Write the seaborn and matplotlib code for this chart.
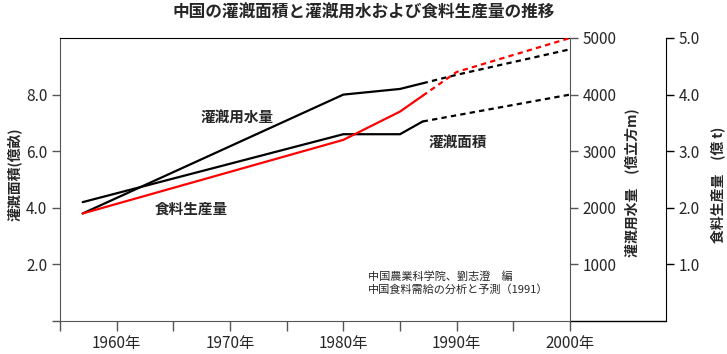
import seaborn as sns
import matplotlib.pyplot as plt
from matplotlib.lines import Line2D

# ---- data ----
area_years = [1957, 1980, 1985, 1987]
area_vals = [4.2, 6.6, 6.6, 7.05]          # 億畝
area_proj_years = [1987, 2000]
area_proj_vals = [7.05, 8.0]

water_years = [1957, 1980, 1985, 1987]
water_vals = [1900, 4000, 4100, 4200]      # 億立方m
water_proj_years = [1987, 1990, 2000]
water_proj_vals = [4200, 4350, 4800]

food_years = [1957, 1980, 1985, 1987]
food_vals = [1.9, 3.2, 3.7, 3.98]          # 億t
food_proj_years = [1987, 1990, 2000]
food_proj_vals = [3.98, 4.4, 5.0]

x_major = [1960, 1970, 1980, 1990, 2000]
x_minor = [1955, 1965, 1975, 1985, 1995]
x_labels = [f"{y}年" for y in x_major]

sns.set_style("white")
plt.rcParams['font.family'] = ['Noto Sans CJK JP', 'DejaVu Sans']

fig = plt.figure(figsize=(7.27, 3.54), dpi=100)
ax = fig.add_axes([60 / 727, 1 - 321 / 354, 510 / 727, 283 / 354])
ax2 = ax.twinx()
ax3 = ax.twinx()

solid = dict(lw=1.6, legend=False)
dash = (0, (2.4, 1.9))

# irrigated area (left axis)
sns.lineplot(x=area_years, y=area_vals, ax=ax, color="black", **solid)
sns.lineplot(x=area_proj_years, y=area_proj_vals, ax=ax, color="black", linestyle=dash, **solid)
# irrigation water (right axis)
sns.lineplot(x=water_years, y=water_vals, ax=ax2, color="black", **solid)
sns.lineplot(x=water_proj_years, y=water_proj_vals, ax=ax2, color="black", linestyle=dash, **solid)
# food production (outer right axis)
sns.lineplot(x=food_years, y=food_vals, ax=ax3, color="red", **solid)
sns.lineplot(x=food_proj_years, y=food_proj_vals, ax=ax3, color="red", linestyle=dash, **solid)

gray = "#555555"
for a in (ax, ax2, ax3):
    a.set_xlim(1955, 2000)
    a.set_xlabel("")
    a.set_ylabel("")
    a.grid(False)
    for s in a.spines.values():
        s.set_visible(False)

ax.set_ylim(0, 10)
ax2.set_ylim(0, 5000)
ax3.set_ylim(0, 5)

# spines
ax.spines['left'].set_visible(True)
ax.spines['left'].set_color(gray)
ax.spines['bottom'].set_visible(True)
ax.spines['bottom'].set_color(gray)
ax.spines['top'].set_visible(True)
ax.spines['top'].set_color("black")
ax2.spines['right'].set_visible(True)
ax2.spines['right'].set_color(gray)
ax3.spines['right'].set_visible(True)
ax3.spines['right'].set_color("black")
ax3.spines['right'].set_position(('axes', 606 / 510))
# bottom line continues to the outer axis
ax.add_line(Line2D([1.0, 606 / 510], [0, 0], transform=ax.transAxes, color="black", lw=1.0, clip_on=False))

# ticks
ax.set_xticks(x_major)
ax.set_xticklabels(x_labels)
ax.set_xticks(x_minor, minor=True)
ax.tick_params(axis='x', which='both', direction='out', length=7, width=1, color=gray,
               labelsize=11, pad=3, bottom=True)
ax.set_yticks([0, 2, 4, 6, 8])
ax.set_yticklabels(['', '2.0', '4.0', '6.0', '8.0'])
ax.tick_params(axis='y', direction='out', length=6, width=1, color=gray, labelsize=11, pad=3, left=True)

ax2.set_yticks([1000, 2000, 3000, 4000, 5000])
ax2.tick_params(axis='y', direction='out', length=6, width=1, color=gray, labelsize=11, pad=3, right=True)

ax3.set_yticks([1, 2, 3, 4, 5])
ax3.set_yticklabels(['1.0', '2.0', '3.0', '4.0', '5.0'])
ax3.tick_params(axis='y', direction='out', length=6, width=1, color="black", labelsize=11, pad=3, right=True)

# axis titles
ax.text(-46 / 510, 0.52, "灌漑面積(億畝)", transform=ax.transAxes, rotation=90,
        ha='center', va='center', fontsize=10, fontweight='bold')
ax.text(572 / 510, 0.49, "灌漑用水量　(億立方m)", transform=ax.transAxes, rotation=90,
        ha='center', va='center', fontsize=10, fontweight='bold')
ax.text(658 / 510, 0.48, "食料生産量　(億 t)", transform=ax.transAxes, rotation=90,
        ha='center', va='center', fontsize=10, fontweight='bold')

# series labels
ax.text(1970.6, 7.19, "灌漑用水量", ha='center', va='center', fontsize=10.5, fontweight='bold')
ax.text(1990.1, 6.34, "灌漑面積", ha='center', va='center', fontsize=10.5, fontweight='bold')
ax.text(1966.6, 3.96, "食料生産量", ha='center', va='center', fontsize=10.5, fontweight='bold')

# source
ax.text(1982.2, 1.35, "中国農業科学院、劉志澄　編\n中国食料需給の分析と予測（1991）",
        ha='left', va='center', fontsize=8, linespacing=1.25)

fig.text(0.5, 1 - 13 / 354, "中国の灌漑面積と灌漑用水および食料生産量の推移",
         ha='center', va='center', fontsize=12, fontweight='bold')

fig.savefig("out.png", dpi=100)
